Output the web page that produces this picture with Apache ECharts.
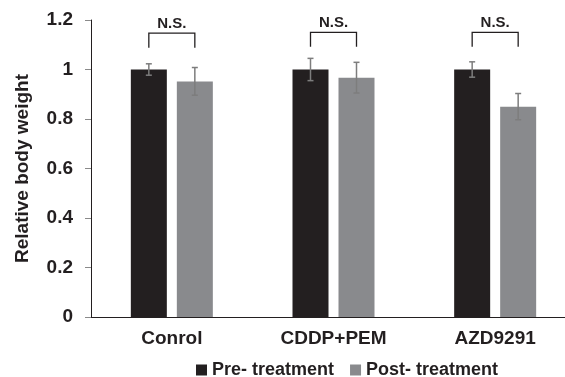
<!DOCTYPE html>
<html>
<head>
<meta charset="utf-8">
<script src="https://cdn.jsdelivr.net/npm/echarts@6/dist/echarts.min.js"></script>
<style>
  html, body { margin: 0; padding: 0; background: #fff; }
  #main { width: 565px; height: 377px; }
</style>
</head>
<body>
<div id="main"></div>
<script>
// values
var categories = ['Conrol', 'CDDP+PEM', 'AZD9291'];
var preValues = [1.0, 1.0, 1.0];
var preErrors = [0.023, 0.045, 0.031];
var postValues = [0.952, 0.967, 0.85];
var postErrors = [0.056, 0.062, 0.053];
var bracketTop = [1.147, 1.15, 1.15];
var bracketLeg = [1.088, 1.092, 1.092];
var bracketLabel = ['N.S.', 'N.S.', 'N.S.'];
var yTicks = [0, 0.2, 0.4, 0.6, 0.8, 1, 1.2];

var BAR_W = 36;
var BAR_GAP = 10;
var OFFSET = (BAR_W + BAR_GAP) / 2;
var FONT = 'Liberation Sans, Arial, sans-serif';

function errData(values, errors) {
    return values.map(function (v, i) { return [i, v - errors[i], v + errors[i]]; });
}

function errRender(shift) {
    return function (params, api) {
        var lo = api.coord([api.value(0), api.value(1)]);
        var hi = api.coord([api.value(0), api.value(2)]);
        var x = lo[0] + shift;
        var st = { stroke: '#7d7d7d', lineWidth: 1.5 };
        return {
            type: 'group',
            children: [
                { type: 'line', shape: { x1: x, y1: lo[1], x2: x, y2: hi[1] }, style: st },
                { type: 'line', shape: { x1: x - 3, y1: lo[1], x2: x + 3, y2: lo[1] }, style: st },
                { type: 'line', shape: { x1: x - 3, y1: hi[1], x2: x + 3, y2: hi[1] }, style: st }
            ]
        };
    };
}

var chart = echarts.init(document.getElementById('main'));

var option = {
    animation: false,
    grid: { left: 91, top: 20, bottom: 60, width: 485, outerBoundsMode: 'none' },
    legend: {
        left: 196,
        top: 361,
        padding: 0,
        icon: 'rect',
        itemWidth: 11,
        itemHeight: 11,
        itemGap: 16,
        textStyle: { fontFamily: FONT, fontWeight: 'bold', fontSize: 18, color: '#231f20' },
        data: ['Pre- treatment', 'Post- treatment']
    },
    xAxis: {
        type: 'category',
        data: categories,
        axisLine: { lineStyle: { color: '#231f20', width: 1 } },
        axisTick: { show: false },
        axisLabel: { fontFamily: FONT, fontWeight: 'bold', fontSize: 19, color: '#231f20', margin: 12 }
    },
    yAxis: {
        type: 'value',
        min: yTicks[0],
        max: yTicks[yTicks.length - 1],
        interval: yTicks[1] - yTicks[0],
        name: 'Relative body weight',
        nameLocation: 'middle',
        nameGap: 59,
        nameTextStyle: { fontFamily: FONT, fontWeight: 'bold', fontSize: 19, color: '#231f20' },
        splitLine: { show: false },
        axisLine: { show: true, lineStyle: { color: '#231f20', width: 1 } },
        axisTick: { show: true, length: 6, lineStyle: { color: '#8a8a8a' } },
        axisLabel: { fontFamily: FONT, fontWeight: 'bold', fontSize: 19, color: '#231f20', margin: 18 }
    },
    series: [
        {
            name: 'Pre- treatment',
            type: 'bar',
            data: preValues,
            barWidth: BAR_W,
            barGap: (BAR_GAP / BAR_W * 100) + '%',
            itemStyle: { color: '#231f20' }
        },
        {
            name: 'Post- treatment',
            type: 'bar',
            data: postValues,
            barWidth: BAR_W,
            itemStyle: { color: '#898a8d' }
        },
        {
            type: 'custom',
            data: errData(preValues, preErrors),
            renderItem: errRender(-OFFSET),
            z: 5
        },
        {
            type: 'custom',
            data: errData(postValues, postErrors),
            renderItem: errRender(OFFSET),
            z: 5
        },
        {
            type: 'custom',
            data: categories.map(function (c, i) { return [i, bracketLeg[i], bracketTop[i]]; }),
            renderItem: function (params, api) {
                var leg = api.coord([api.value(0), api.value(1)]);
                var top = api.coord([api.value(0), api.value(2)]);
                var x1 = leg[0] - OFFSET, x2 = leg[0] + OFFSET;
                return {
                    type: 'group',
                    children: [
                        {
                            type: 'polyline',
                            shape: { points: [[x1, leg[1]], [x1, top[1]], [x2, top[1]], [x2, leg[1]]] },
                            style: { stroke: '#231f20', lineWidth: 1.3, fill: null }
                        },
                        {
                            type: 'text',
                            style: {
                                text: bracketLabel[params.dataIndex],
                                x: leg[0],
                                y: top[1] - 2,
                                align: 'center',
                                verticalAlign: 'bottom',
                                font: 'bold 15px ' + FONT,
                                fill: '#231f20'
                            }
                        }
                    ]
                };
            },
            z: 5
        }
    ]
};

chart.setOption(option);
</script>
</body>
</html>
